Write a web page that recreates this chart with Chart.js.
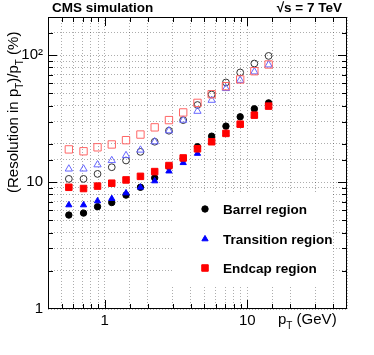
<!DOCTYPE html>
<html>
<head>
<meta charset="utf-8">
<script src="https://cdn.jsdelivr.net/npm/chart.js@4.4.0/dist/chart.umd.min.js"></script>
<style>
html,body{margin:0;padding:0;background:#fff;}
</style>
</head>
<body>
<canvas id="resChart" width="374" height="355"></canvas>
<script>
// pT bin centres (GeV)
const pt=[0.56,0.71,0.89,1.12,1.41,1.78,2.24,2.82,3.55,4.47,5.62,7.08,8.91,11.2,14.1];

// filled markers
const barrel=[5.5,5.7,6.4,6.9,7.9,9.1,10.8,13.3,15.3,19.0,23.0,27.6,32.7,37.8,42.1];
const transition=[6.6,6.6,7.1,7.4,8.2,9.1,10.2,12.2,14.2,16.8,20.6,24.0,28.3,33.5,39.5];
const endcap=[9.1,8.9,9.3,9.8,10.4,11.1,12.1,13.5,15.5,18.3,20.8,24.2,28.6,33.7,39.7];

// open markers
const barrelOpen=[10.6,10.6,11.6,13.1,14.8,17.3,20.8,25.4,30.8,40.5,49.0,61.0,73.1,86.0,98.7];
const transitionOpen=[12.7,12.7,13.7,14.8,16.2,17.9,20.8,25.4,30.8,36.2,44.2,54.7,63.5,74.0,84.0];
const endcapOpen=[18.1,17.5,18.8,19.8,21.4,23.7,27.0,30.8,35.4,42.1,49.3,57.0,64.4,74.8,84.5];

const legendLabels=['Barrel region','Transition region','Endcap region'];

const FONT='"Liberation Sans", Arial, Helvetica, sans-serif';

function series(label,vals,style,color,fill,radius,order){
return {
label:label,
data:pt.map((x,i)=>({x:x,y:vals[i]})),
pointStyle:style,
pointRadius:radius,
pointHoverRadius:radius,
backgroundColor:fill?color:'rgba(0,0,0,0)',
borderColor:color,
pointBorderWidth:1,
showLine:false,
order:order
};
}

function isDecade(v){
const l=Math.log10(v);
return Math.abs(l-Math.round(l))<1e-9;
}

// legend box, frame, inward ticks, titles
const decor={
id:'decor',
afterDatasetsDraw(chart){
const ctx=chart.ctx;
const a=chart.chartArea;
const xs=chart.scales.x, ys=chart.scales.y;

// legend box
ctx.save();
ctx.fillStyle='#fff';
ctx.fillRect(172,194,161,91);
const ds=chart.data.datasets;
const rows=[209,239,268];
for(let i=0;i<3;i++){
const d=ds[i];
ctx.fillStyle=d.backgroundColor;
ctx.strokeStyle=d.borderColor;
ctx.lineWidth=1;
Chart.helpers.drawPoint(ctx,{pointStyle:d.pointStyle,radius:d.pointRadius,borderWidth:1,rotation:0},205,rows[i]);
ctx.fillStyle='#000';
ctx.font='bold 13.5px '+FONT;
ctx.textBaseline='middle';
ctx.textAlign='left';
ctx.fillText(legendLabels[i],223,rows[i]+1);
}
ctx.restore();

ctx.save();
ctx.strokeStyle='#000';
ctx.lineWidth=1;
ctx.strokeRect(a.left+0.5,a.top+0.5,a.right-a.left-1,a.bottom-a.top-1);
ctx.beginPath();
xs.ticks.forEach(t=>{
const p=Math.round(xs.getPixelForValue(t.value))+0.5;
if(p<=a.left+1||p>=a.right-1)return;
const len=isDecade(t.value)?9:5;
ctx.moveTo(p,a.bottom);ctx.lineTo(p,a.bottom-len);
ctx.moveTo(p,a.top);ctx.lineTo(p,a.top+len);
});
ys.ticks.forEach(t=>{
const p=Math.round(ys.getPixelForValue(t.value))+0.5;
if(p<=a.top+1||p>=a.bottom-1)return;
const len=isDecade(t.value)?9:5;
ctx.moveTo(a.left,p);ctx.lineTo(a.left+len,p);
ctx.moveTo(a.right,p);ctx.lineTo(a.right-len,p);
});
ctx.stroke();

// headline texts
ctx.fillStyle='#000';
ctx.font='bold 13.5px '+FONT;
ctx.textBaseline='alphabetic';
ctx.textAlign='left';
ctx.fillText('CMS simulation',52,12);
ctx.textAlign='right';
ctx.fillText('\u221As = 7 TeV',342,12);

// x title
ctx.textAlign='left';
ctx.font='15px '+FONT;
ctx.fillText('p',278,324);
let w=ctx.measureText('p').width;
ctx.font='10px '+FONT;
ctx.fillText('T',278+w,329);
let w2=ctx.measureText('T').width;
ctx.font='15px '+FONT;
ctx.fillText(' (GeV)',278+w+w2,324);

// y title
ctx.translate(18,193);
ctx.rotate(-Math.PI/2);
const parts=[['(Resolution in p',15,0],['T',10,5],[')/p',15,0],['T',10,5],[' (%)',15,0]];
let x=0;
parts.forEach(p=>{
ctx.font=p[1]+'px '+FONT;
ctx.fillText(p[0],x,p[2]);
x+=ctx.measureText(p[0]).width;
});
ctx.restore();
}
};

new Chart(
document.getElementById('resChart'),
{
type:'scatter',
data:{
datasets:[
series('Barrel region',barrel,'circle','#000000',true,3.2,3),
series('Transition region',transition,'triangle','#0000ff',true,3.6,2),
series('Endcap region',endcap,'rect','#ff0000',true,4.6,1),
series('Barrel open',barrelOpen,'circle','#333333',false,3.4,6),
series('Transition open',transitionOpen,'triangle','#6666ff',false,4.2,5),
series('Endcap open',endcapOpen,'rect','#ff6666',false,5.2,4)
]
},
options:{
responsive:false,
animation:false,
layout:{padding:{top:17,right:27,left:0,bottom:0}},
plugins:{legend:{display:false},tooltip:{enabled:false}},
scales:{
x:{
type:'logarithmic',
min:0.4,
max:50,
afterFit:s=>{s.height=46;},
grid:{color:'rgba(0,0,0,0.32)',drawTicks:false},
border:{display:false,dash:[1,2]},
ticks:{
autoSkip:false,
maxRotation:0,
padding:3,
color:'#000',
font:{family:FONT,size:15},
callback:v=>isDecade(v)?String(Math.round(v)):''
}
},
y:{
type:'logarithmic',
min:1,
max:200,
afterFit:s=>{s.width=48;},
grid:{color:'rgba(0,0,0,0.32)',drawTicks:false},
border:{display:false,dash:[1,2]},
ticks:{
autoSkip:false,
padding:5,
color:'#000',
font:{family:FONT,size:15},
callback:v=>{
if(!isDecade(v))return '';
const n=Math.round(v);
return n===100?'10\u00B2':String(n);
}
}
}
}
},
plugins:[decor]
}
);
</script>
</body>
</html>
